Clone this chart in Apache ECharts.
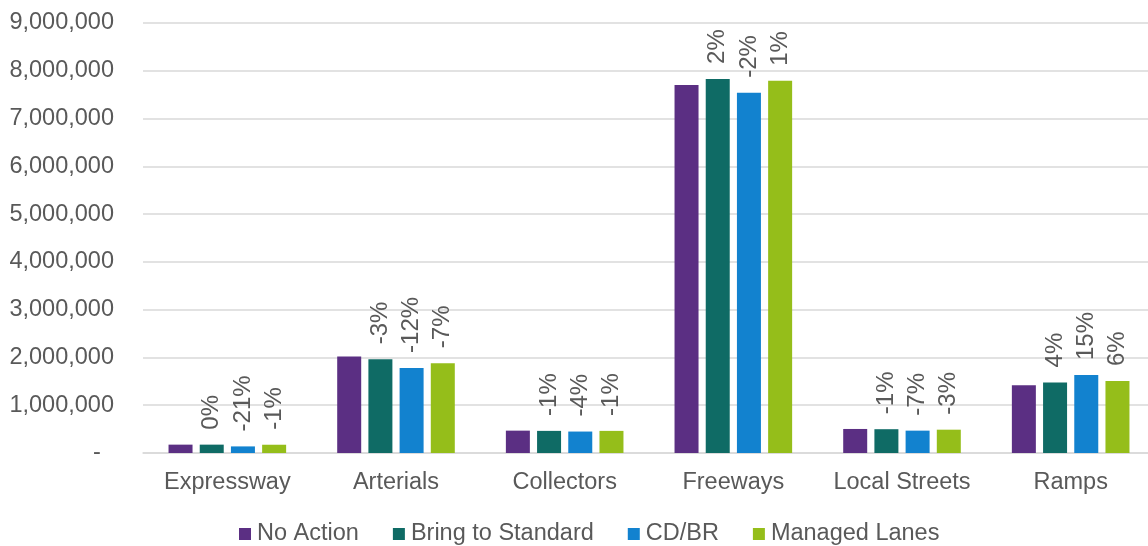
<!DOCTYPE html>
<html>
<head>
<meta charset="utf-8">
<script src="https://cdn.jsdelivr.net/npm/echarts@6/dist/echarts.min.js"></script>
<style>
  html, body { margin: 0; padding: 0; background: #ffffff; }
  #chart { width: 1148px; height: 546px; }
</style>
</head>
<body>
<div id="chart"></div>
<script>
// Road classes on the x axis
const categories = ['Expressway', 'Arterials', 'Collectors', 'Freeways', 'Local Streets', 'Ramps'];

// Vehicle miles travelled per scenario
const noAction        = [175000, 2020000, 468000, 7700000, 503000, 1420000];
const bringToStandard = [175000, 1960000, 463000, 7830000, 498000, 1477000];
const cdbr            = [138000, 1780000, 449000, 7540000, 468000, 1633000];
const managedLanes    = [173000, 1880000, 463000, 7790000, 488000, 1505000];

// Change relative to No Action, shown above each bar
const bringToStandardPct = ['0%', '-3%', '-1%', '2%', '-1%', '4%'];
const cdbrPct            = ['-21%', '-12%', '-4%', '-2%', '-7%', '15%'];
const managedLanesPct    = ['-1%', '-7%', '-1%', '1%', '-3%', '6%'];

// Value axis ticks
const yTicks = { min: 0, max: 9000000, interval: 1000000 };

const FONT = '"Liberation Sans", Arial, sans-serif';
const TEXT = '#595959';
const FS = 23.5;

function pctLabel(texts) {
  return {
    show: true,
    position: 'top',
    rotate: 90,
    align: 'left',
    verticalAlign: 'middle',
    distance: 15,
    color: TEXT,
    fontFamily: FONT,
    fontSize: 24,
    formatter: p => texts[p.dataIndex]
  };
}

const chart = echarts.init(document.getElementById('chart'), null, { renderer: 'canvas' });

chart.setOption({
  animation: false,
  backgroundColor: '#ffffff',
  textStyle: { fontFamily: FONT, color: TEXT },
  grid: {
    left: 143,
    top: 23,
    width: 1012,
    height: 430,
    containLabel: false,
    outerBoundsMode: 'none'
  },
  legend: {
    left: 234,
    top: 517,
    itemWidth: 12,
    itemHeight: 12,
    itemGap: 34,
    icon: 'rect',
    textStyle: { color: TEXT, fontFamily: FONT, fontSize: FS, padding: [0, 0, 0, 1] },
    data: ['No Action', 'Bring to Standard', 'CD/BR', 'Managed Lanes']
  },
  xAxis: {
    type: 'category',
    data: categories,
    axisLine: { show: true, lineStyle: { color: '#d9d9d9', width: 1.5 } },
    axisTick: { show: false },
    axisLabel: { color: TEXT, fontFamily: FONT, fontSize: FS, margin: 18, interval: 0 }
  },
  yAxis: {
    type: 'value',
    min: yTicks.min,
    max: yTicks.max,
    interval: yTicks.interval,
    axisLine: { show: false },
    axisTick: { show: false },
    splitLine: { show: true, lineStyle: { color: '#d9d9d9', width: 1.5 } },
    axisLabel: {
      color: TEXT,
      fontFamily: FONT,
      fontSize: FS,
      margin: 29,
      formatter: v => v === 0 ? '-  ' : v.toLocaleString('en-US')
    }
  },
  series: [
    {
      name: 'No Action', type: 'bar', data: noAction,
      barWidth: 24, barGap: '30%',
      itemStyle: { color: '#5b2f83' }
    },
    {
      name: 'Bring to Standard', type: 'bar', data: bringToStandard,
      barWidth: 24, barGap: '30%',
      itemStyle: { color: '#0f6b65' },
      label: pctLabel(bringToStandardPct)
    },
    {
      name: 'CD/BR', type: 'bar', data: cdbr,
      barWidth: 24, barGap: '30%',
      itemStyle: { color: '#1282cf' },
      label: pctLabel(cdbrPct)
    },
    {
      name: 'Managed Lanes', type: 'bar', data: managedLanes,
      barWidth: 24, barGap: '30%',
      itemStyle: { color: '#95be1a' },
      label: pctLabel(managedLanesPct)
    }
  ]
});
</script>
</body>
</html>
